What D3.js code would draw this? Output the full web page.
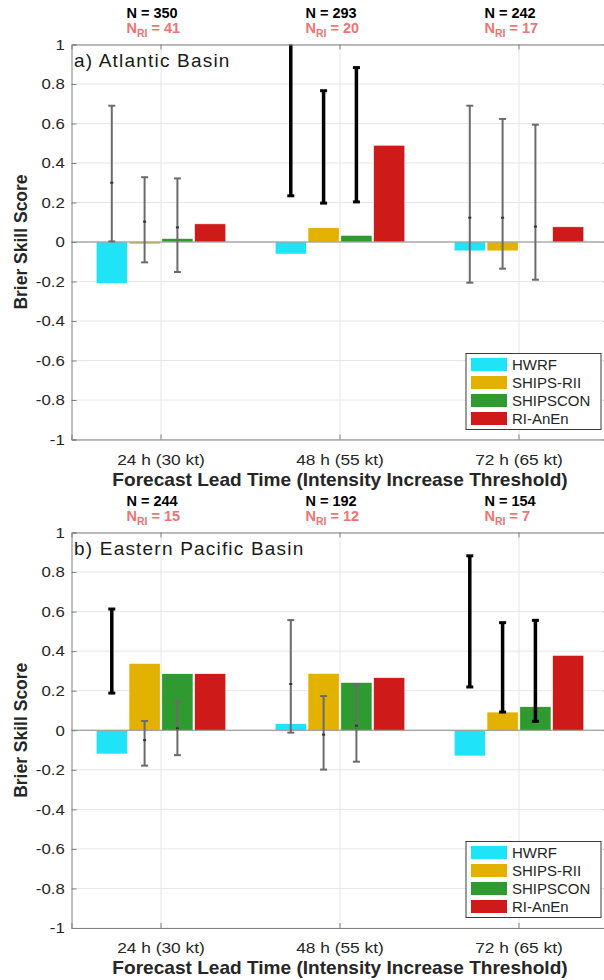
<!DOCTYPE html>
<html>
<head>
<meta charset="utf-8">
<script src="https://cdn.jsdelivr.net/npm/d3@7"></script>
<style>
  body { margin: 0; background: #fff; }
  svg text { font-family: "Liberation Sans", Arial, Helvetica, sans-serif; }
</style>
</head>
<body>
<div id="chart"></div>
<script>
const kSvgWidth = 604;
const kSvgHeight = 980;

// data
const categories = ["24 h (30 kt)", "48 h (55 kt)", "72 h (65 kt)"];
const models = ["HWRF", "SHIPS-RII", "SHIPSCON", "RI-AnEn"];
const modelColors = ["#1fe3f7", "#e3b200", "#2f9a30", "#cf1a1a"];
const yTickValues = [-1, -0.8, -0.6, -0.4, -0.2, 0, 0.2, 0.4, 0.6, 0.8, 1];

// a) Atlantic
const atlTitle = "a) Atlantic Basin";
const atlN = [350, 293, 242];
const atlNRI = [41, 20, 17];
// bss[category][model]
const atlBss = [[-0.21, -0.01, 0.018, 0.092], [-0.061, 0.072, 0.034, 0.49], [-0.045, -0.045, 0.002, 0.077]];
// error bars for first three models
const atlLow = [[0.003, -0.103, -0.152], [0.234, 0.197, 0.203], [-0.206, -0.135, -0.191]];
const atlHigh = [[0.69, 0.328, 0.322], [1.05, 0.766, 0.883], [0.69, 0.623, 0.594]];
const atlMid = [[0.30, 0.103, 0.074], [0.64, 0.48, 0.54], [0.123, 0.123, 0.078]];
const atlSig = [[false, false, false], [true, true, true], [false, false, false]];

// b) Eastern Pacific
const pacTitle = "b) Eastern Pacific Basin";
const pacN = [244, 192, 154];
const pacNRI = [15, 12, 7];
const pacBss = [[-0.12, 0.338, 0.286, 0.286], [0.033, 0.288, 0.242, 0.266], [-0.13, 0.092, 0.119, 0.379]];
const pacLow = [[0.188, -0.179, -0.126], [-0.012, -0.199, -0.159], [0.219, 0.092, 0.045]];
const pacHigh = [[0.613, 0.047, 0.145], [0.557, 0.173, 0.229], [0.882, 0.544, 0.556]];
const pacMid = [[0.40, -0.05, 0.01], [0.234, -0.022, 0.023], [0.55, 0.32, 0.30]];
const pacSig = [[true, false, false], [false, false, false], [true, true, true]];

const kLeft = 71.5;
const kRight = 608.5;

function createSvg()
{
  return d3.select("#chart")
    .append("svg")
    .attr("width", kSvgWidth)
    .attr("height", kSvgHeight)
    .style("display", "block");
}

function drawPanel(svg, top, bottom, title, nList, nriList, bss, low, high, mid, sig)
{
  const g = svg.append("g");

  const xScale = d3.scaleBand()
    .domain(categories)
    .range([kLeft, kRight]);
  const xInner = d3.scaleBand()
    .domain(models)
    .range([-64.8, 64.8])
    .paddingInner(0.05);
  const yScale = d3.scaleLinear()
    .domain([-1, 1])
    .range([bottom, top]);
  const xc = c => xScale(c) + xScale.bandwidth() / 2;

  // grid
  g.append("g").selectAll("line")
    .data(yTickValues)
    .join("line")
    .attr("x1", kLeft).attr("x2", kRight)
    .attr("y1", d => yScale(d)).attr("y2", d => yScale(d))
    .attr("stroke", "#e6e6e6").attr("stroke-width", 1);
  g.append("g").selectAll("line")
    .data(categories)
    .join("line")
    .attr("x1", xc).attr("x2", xc)
    .attr("y1", top).attr("y2", bottom)
    .attr("stroke", "#e6e6e6").attr("stroke-width", 1);

  // bars
  const barData = [];
  categories.forEach((c, i) => models.forEach((m, j) => barData.push({c, m, j, v: bss[i][j]})));
  g.append("g").selectAll("rect")
    .data(barData)
    .join("rect")
    .attr("x", d => xc(d.c) + xInner(d.m))
    .attr("width", xInner.bandwidth())
    .attr("y", d => yScale(Math.max(0, d.v)))
    .attr("height", d => Math.abs(yScale(d.v) - yScale(0)))
    .attr("fill", d => modelColors[d.j])
    .attr("stroke", "#ffffff")
    .attr("stroke-width", 0.6);

  // baseline
  g.append("line")
    .attr("x1", kLeft).attr("x2", kRight)
    .attr("y1", yScale(0)).attr("y2", yScale(0))
    .attr("stroke", "#8a8a8a").attr("stroke-width", 1);

  // error bars
  const errData = [];
  categories.forEach((c, i) => [0, 1, 2].forEach(j => errData.push({
    x: xc(c) + xInner(models[j]) + xInner.bandwidth() / 2,
    lo: low[i][j], hi: high[i][j], mid: mid[i][j], sig: sig[i][j]
  })));
  const eg = g.append("g").selectAll("g")
    .data(errData)
    .join("g")
    .attr("stroke", d => d.sig ? "#000" : "#6b6b6b");
  eg.append("line")
    .attr("x1", d => d.x).attr("x2", d => d.x)
    .attr("y1", d => yScale(Math.min(d.hi, 1))).attr("y2", d => yScale(d.lo))
    .attr("stroke-width", d => d.sig ? 3.5 : 2);
  eg.filter(d => d.hi <= 1).append("line")
    .attr("x1", d => d.x - 3.5).attr("x2", d => d.x + 3.5)
    .attr("y1", d => yScale(d.hi)).attr("y2", d => yScale(d.hi))
    .attr("stroke-width", d => d.sig ? 3 : 2);
  eg.append("line")
    .attr("x1", d => d.x - 3.5).attr("x2", d => d.x + 3.5)
    .attr("y1", d => yScale(d.lo)).attr("y2", d => yScale(d.lo))
    .attr("stroke-width", d => d.sig ? 3 : 2);
  eg.filter(d => !d.sig).append("line")
    .attr("x1", d => d.x - 1.5).attr("x2", d => d.x + 1.5)
    .attr("y1", d => yScale(d.mid)).attr("y2", d => yScale(d.mid))
    .attr("stroke", "#333").attr("stroke-width", 2);

  // axes
  const yAxis = d3.axisLeft(yScale)
    .tickValues(yTickValues)
    .tickFormat(d => String(+d.toFixed(1)))
    .tickSize(-5)
    .tickPadding(6);
  const ya = g.append("g")
    .attr("transform", `translate(${kLeft},0)`)
    .call(yAxis);
  const yaR = g.append("g")
    .attr("transform", `translate(${kRight},0)`)
    .call(d3.axisRight(yScale).tickValues(yTickValues).tickSize(-5).tickFormat(""));
  const xAxis = d3.axisBottom(xScale)
    .tickSize(-5)
    .tickPadding(14);
  const xa = g.append("g")
    .attr("transform", `translate(0,${bottom})`)
    .call(xAxis);
  const xaT = g.append("g")
    .attr("transform", `translate(0,${top})`)
    .call(d3.axisTop(xScale).tickSize(-5).tickFormat(""));
  [ya, yaR, xa, xaT].forEach(a => {
    a.select(".domain").attr("stroke", "#808080");
    a.selectAll(".tick line").attr("stroke", "#808080");
  });
  ya.selectAll("text")
    .attr("font-size", 15).attr("fill", "#262626")
    .attr("transform", "scale(1.12,1)")
    .style("font-family", "Liberation Sans, Arial, sans-serif");
  xa.selectAll("text")
    .attr("font-size", 15.5).attr("fill", "#262626")
    .attr("transform", "scale(1.12,1)")
    .style("font-family", "Liberation Sans, Arial, sans-serif");

  // labels
  g.append("text")
    .attr("transform", `translate(340,${bottom + 46}) scale(1.09,1)`)
    .attr("text-anchor", "middle")
    .attr("font-size", 17.5).attr("font-weight", "bold").attr("fill", "#262626")
    .text("Forecast Lead Time (Intensity Increase Threshold)");
  g.append("text")
    .attr("transform", `translate(27,${yScale(0)}) rotate(-90)`)
    .attr("text-anchor", "middle")
    .attr("font-size", 17.5).attr("font-weight", "bold").attr("fill", "#262626")
    .text("Brier Skill Score");
  g.append("text")
    .attr("x", 74).attr("y", top + 22)
    .attr("font-size", 19).attr("fill", "#1a1a1a")
    .attr("letter-spacing", 1.2)
    .text(title);

  // sample sizes
  const ng = g.append("g").selectAll("g")
    .data(categories)
    .join("g");
  ng.append("text")
    .attr("x", d => xc(d) - 34.5).attr("y", top - 27)
    .attr("font-size", 14.5).attr("font-weight", "bold").attr("fill", "#000")
    .text((d, i) => `N = ${nList[i]}`);
  const nri = ng.append("text")
    .attr("x", d => xc(d) - 34.5).attr("y", top - 12)
    .attr("font-size", 14.5).attr("font-weight", "bold").attr("fill", "#f07373");
  nri.append("tspan").text("N");
  nri.append("tspan").attr("font-size", 10.5).attr("dy", 4).text("RI");
  nri.append("tspan").attr("dy", -4).text((d, i) => ` = ${nriList[i]}`);

  // legend
  const lx = 466, ly = top + 309;
  const lg = g.append("g");
  lg.append("rect")
    .attr("x", lx).attr("y", ly).attr("width", 135).attr("height", 76)
    .attr("fill", "#fff").attr("stroke", "#3a3a3a").attr("stroke-width", 1);
  const li = lg.selectAll("g")
    .data(models)
    .join("g")
    .attr("transform", (d, i) => `translate(${lx + 5},${ly + 11 + i * 18})`);
  li.append("rect")
    .attr("x", 0).attr("y", -6.5).attr("width", 36).attr("height", 13)
    .attr("fill", (d, i) => modelColors[i]);
  li.append("text")
    .attr("x", 41).attr("y", 5.5)
    .attr("font-size", 15).attr("fill", "#262626")
    .text(d => d);
}

document.addEventListener("DOMContentLoaded", () => {
  const svg = createSvg();
  svg.append("rect").attr("width", kSvgWidth).attr("height", kSvgHeight).attr("fill", "#fff");
  drawPanel(svg, 44.5, 439.5, atlTitle, atlN, atlNRI, atlBss, atlLow, atlHigh, atlMid, atlSig);
  drawPanel(svg, 532.5, 928, pacTitle, pacN, pacNRI, pacBss, pacLow, pacHigh, pacMid, pacSig);
});
</script>
</body>
</html>
